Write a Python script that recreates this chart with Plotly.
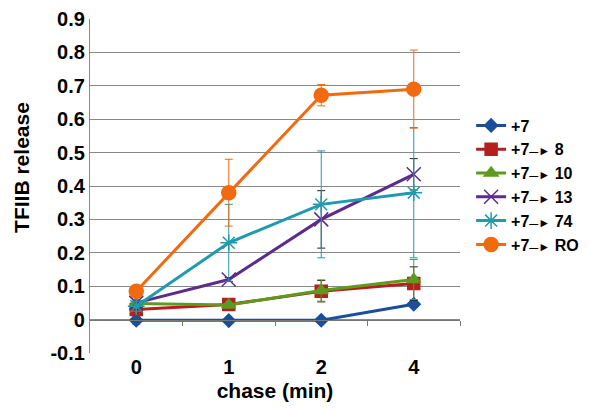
import plotly.graph_objects as go

categories = ["0", "1", "2", "4"]
arrow = "<span style='font-size:9px'>—</span><span style='font-size:12px'>►</span>"
series_names = ["+7", "+7" + arrow + " 8", "+7" + arrow + " 10", "+7" + arrow + " 13",
                "+7" + arrow + " 74", "+7" + arrow + " RO"]

s_p7 = [-0.002, -0.003, -0.002, 0.046]
s_p8 = [0.030, 0.045, 0.085, 0.108]
s_p10 = [0.048, 0.044, 0.087, 0.120]
s_p13 = [0.050, 0.120, 0.300, 0.435]
s_p74 = [0.040, 0.230, 0.345, 0.380]
s_pRO = [0.085, 0.380, 0.672, 0.690]

e_p7 = [0.012, 0.004, 0.004, 0.008]
e_p8 = [0.010, 0.006, 0.032, 0.050]
e_p10 = [0.010, 0.006, 0.032, 0.060]
e_p13 = [0.020, 0.006, 0.086, 0.047]
e_p74 = [0.015, 0.115, 0.160, 0.195]
e_pRO = [0.010, 0.100, 0.032, 0.117]

y_ticks = [-0.1, 0, 0.1, 0.2, 0.3, 0.4, 0.5, 0.6, 0.7, 0.8, 0.9]
y_labels = ["-0.1", "0", "0.1", "0.2", "0.3", "0.4", "0.5", "0.6", "0.7", "0.8", "0.9"]

values = [s_p7, s_p8, s_p10, s_p13, s_p74, s_pRO]
errors = [e_p7, e_p8, e_p10, e_p13, e_p74, e_pRO]
colors = ["#1a4f9c", "#b5201f", "#5e9a1e", "#5b2c8c", "#1f9ab0", "#f26a10"]
err_colors = ["#1f9ab0", "#222222", "#5e9a1e", "#222222", "#1f9ab0", "#f26a10"]
symbols = ["diamond", "square", "triangle-up", "x-thin-open", "asterisk-open", "circle"]
msizes = [10, 12, 12, 14, 14, 14]

fig = go.Figure()
for name, v, e, c, ec, sym, ms in zip(series_names, values, errors, colors, err_colors, symbols, msizes):
    fig.add_trace(go.Scatter(
        x=categories, y=v, name=name, mode="lines+markers",
        line=dict(color=c, width=3),
        marker=dict(symbol=sym, size=ms, color=c, line=dict(color=c, width=1.5)),
        error_y=dict(type="data", array=e, visible=True, color=ec, thickness=1, width=4),
    ))

font_family = "Liberation Sans, Arial, sans-serif"
fig.update_layout(
    width=596, height=412,
    margin=dict(l=82, r=144, t=11, b=67, autoexpand=False),
    paper_bgcolor="white", plot_bgcolor="white",
    font=dict(family=font_family, color="black"),
    showlegend=True,
    legend=dict(x=1.03, xanchor="left", y=0.503, yanchor="middle",
                font=dict(size=16, family=font_family, weight="bold"),
                bgcolor="rgba(0,0,0,0)", itemwidth=30, tracegroupgap=0),
    xaxis=dict(type="category", categoryorder="array", categoryarray=categories,
               range=[-0.5, 3.5], showgrid=False, showline=False, zeroline=False,
               ticks="", tickfont=dict(size=20, weight="bold"), automargin=False,
               title=dict(text="chase (min)", font=dict(size=21, weight="bold"), standoff=6)),
    xaxis2=dict(overlaying="x", anchor="free", position=0.1, range=[-0.5, 3.5],
                tickvals=[0.5, 1.5, 2.5, 3.5], ticks="outside", ticklen=5, tickcolor="#777",
                showticklabels=False, showline=True, linecolor="#777", linewidth=1,
                showgrid=False, zeroline=False),
    yaxis=dict(range=[-0.1, 0.9], tickvals=y_ticks, ticktext=y_labels,
               showgrid=True, gridcolor="#888", gridwidth=1.2, zeroline=False,
               showline=True, linecolor="#888", linewidth=1.2, ticks="", automargin=False,
               tickfont=dict(size=20, weight="bold")),
    annotations=[dict(text="TFIIB release", textangle=-90, xref="paper", yref="paper",
                      x=-0.184, y=0.557, xanchor="center", yanchor="middle", showarrow=False,
                      font=dict(size=21, weight="bold", family=font_family))],
)
fig.add_trace(go.Scatter(x=[], y=[], xaxis="x2", showlegend=False, hoverinfo="skip"))

fig.write_html("out.html")
